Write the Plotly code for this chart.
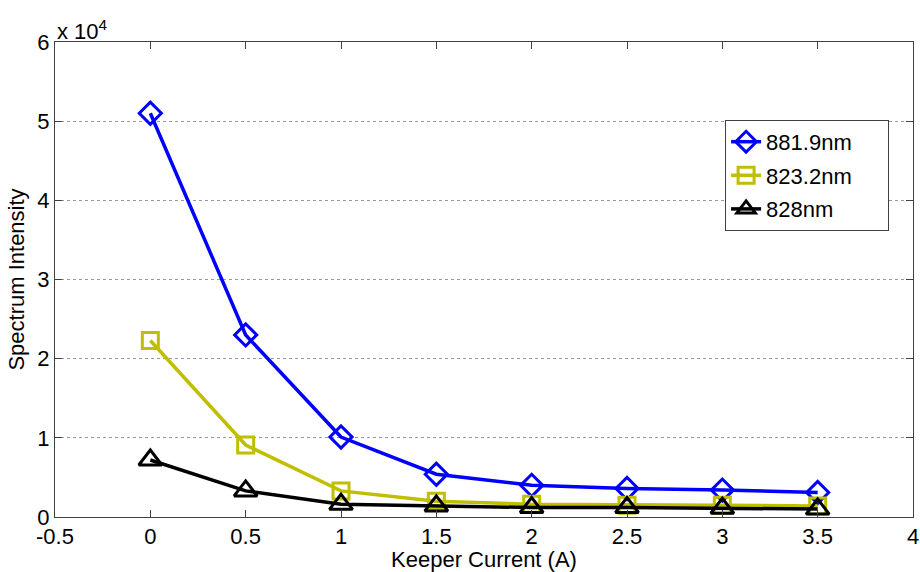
import plotly.graph_objects as go

current = [0, 0.5, 1, 1.5, 2, 2.5, 3, 3.5]
s881 = [51000, 23000, 10100, 5400, 4000, 3600, 3400, 3100]
s823 = [22300, 9100, 3300, 2000, 1600, 1500, 1500, 1400]
s828 = [7200, 3300, 1600, 1400, 1200, 1200, 1100, 1000]
names = ["881.9nm", "823.2nm", "828nm"]
colors = ["#0000ff", "#bfbf00", "#000000"]
symbols = ["diamond-open", "square-open", "triangle-up-open"]
sizes = [17, 16, 20]
yticks = [0, 10000, 20000, 30000, 40000, 50000, 60000]
yticktext = ["0", "1", "2", "3", "4", "5", "6"]
xticks = [-0.5, 0, 0.5, 1, 1.5, 2, 2.5, 3, 3.5, 4]
xticktext = ["-0.5", "0", "0.5", "1", "1.5", "2", "2.5", "3", "3.5", "4"]

font = "Liberation Sans, Arial, sans-serif"
FS = 22
pad = "\u00a0" * 5
fig = go.Figure()
for i, ys in enumerate([s881, s823, s828]):
    fig.add_trace(go.Scatter(
        x=current, y=ys, name=names[i] + pad, mode="lines+markers", legendgroup=names[i],
        line=dict(color=colors[i], width=3.5),
        marker=dict(symbol=symbols[i], size=sizes[i], color=colors[i],
                    line=dict(color=colors[i], width=3)),
    ))

axis_common = dict(showline=True, linecolor="#404040", linewidth=1, mirror="ticks",
                   ticks="inside", ticklen=7, tickcolor="#404040", zeroline=False,
                   automargin=False,
                   tickfont=dict(family=font, size=FS, color="#000"))
fig.update_xaxes(range=[-0.5, 4], tickvals=xticks, ticktext=xticktext, showgrid=False,
                 title=dict(text="Keeper Current (A)", font=dict(family=font, size=FS, color="#000"), standoff=2),
                 **axis_common)
fig.update_yaxes(range=[0, 60000], tickvals=yticks, ticktext=yticktext, showgrid=True,
                 gridcolor="#999", griddash="dot", gridwidth=1,
                 title=dict(text="Spectrum Intensity", font=dict(family=font, size=FS, color="#000"), standoff=6),
                 **axis_common)
fig.add_annotation(text="x 10<sup>4</sup>", xref="paper", yref="paper", x=0, y=1.0,
                   xanchor="left", yanchor="bottom", showarrow=False, yshift=-4,
                   font=dict(family=font, size=FS, color="#000"))
fig.update_layout(
    width=920, height=572, margin=dict(l=55, r=7, t=42, b=55, autoexpand=False),
    paper_bgcolor="white", plot_bgcolor="white", hovermode=False,
    font=dict(family=font, size=FS, color="#000"),
    legend=dict(x=0.781, y=0.836, xanchor="left", yanchor="top", bgcolor="white",
                bordercolor="#404040", borderwidth=1, tracegroupgap=2,
                font=dict(family=font, size=FS, color="#000")),
)
fig.write_html("out.html", config={"displayModeBar": False},
               post_script="document.body.style.margin='0';document.body.style.overflow='hidden';")
